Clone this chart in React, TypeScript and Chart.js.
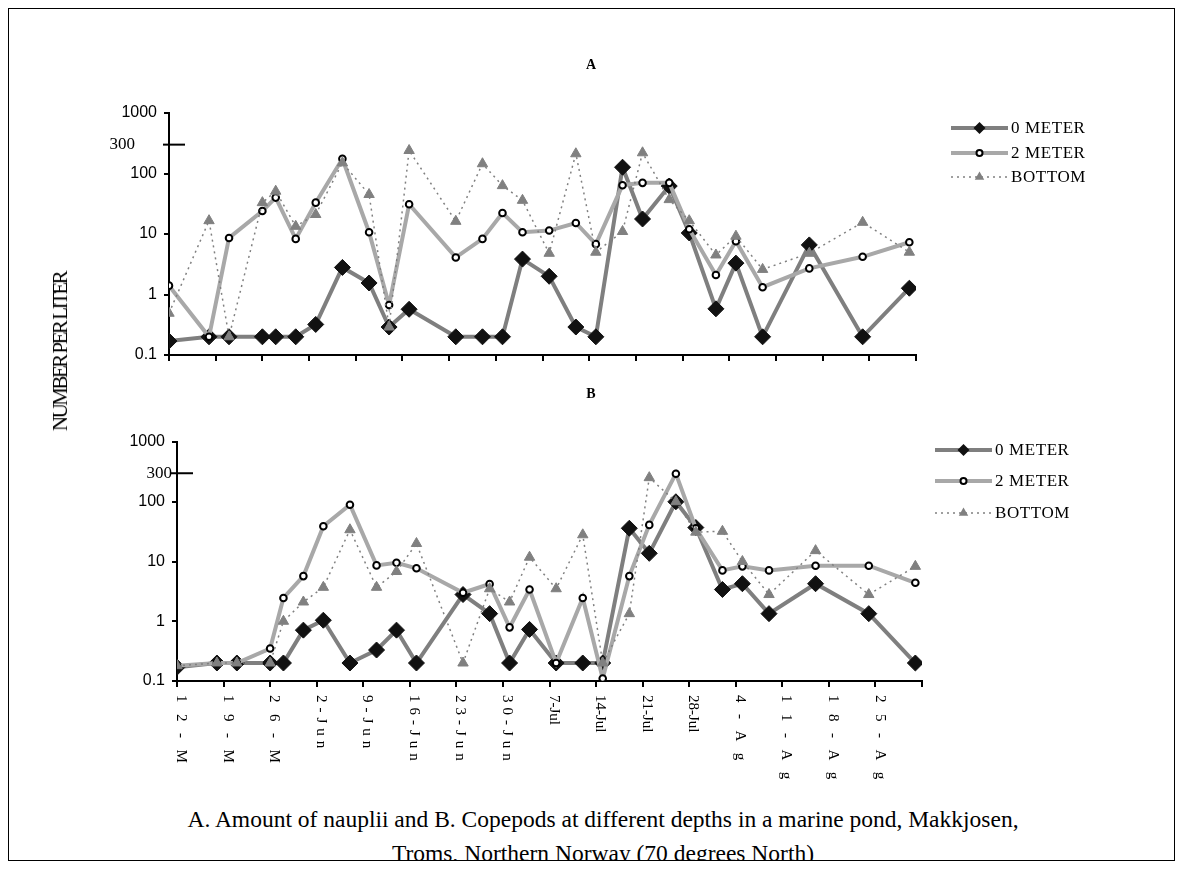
import React, { useEffect, useRef } from "react";
import { Chart, registerables } from "chart.js";

Chart.register(...registerables);

// ---- data ----
const sampleDays = [0, 6, 9, 14, 16, 19, 22, 26, 30, 33, 36, 43, 47, 50, 53, 57, 61, 64, 68, 71, 75, 78, 82, 85, 89, 96, 104, 111];
const weekTickDays = [0, 7, 14, 21, 28, 35, 42, 49, 56, 63, 70, 77, 84, 91, 98, 105, 112];
const weekLabels = ["12-M", "19-M", "26-M", "2-Jun", "9-Jun", "16-Jun", "23-Jun", "30-Jun", "7-Jul", "14-Jul", "21-Jul", "28-Jul", "4-Ag", "11-Ag", "18-Ag", "25-Ag", ""];
const yTickValues = [0.1, 1, 10, 100, 1000];
const yTickLabels = ["0.1", "1", "10", "100", "1000"];
const extraTickValue = 300;
const extraTickLabel = "300";
const seriesNames = ["0 METER", "2 METER", "BOTTOM"];

const naupliiZero = [0.17, 0.2, 0.2, 0.2, 0.2, 0.2, 0.32, 2.8, 1.55, 0.29, 0.57, 0.2, 0.2, 0.2, 3.85, 2.0, 0.29, 0.2, 127, 17.7, 62, 10.4, 0.58, 3.3, 0.2, 6.6, 0.2, 1.27];
const naupliiTwo = [1.4, 0.2, 8.6, 24, 40, 8.3, 33, 175, 10.7, 0.67, 31, 4.1, 8.3, 22.3, 10.7, 11.4, 15.2, 6.8, 64, 70, 70, 12, 2.1, 7.6, 1.32, 2.7, 4.2, 7.3];
const naupliiBottom = [0.49, 16.6, 0.2, 33, 51, 13.4, 21, 150, 45, 0.29, 240, 16.2, 145, 63, 36, 4.8, 212, 5, 11, 220, 37, 16.6, 4.5, 9.2, 2.6, 4.8, 15.6, 5];

const copepodZero = [0.17, 0.2, 0.2, 0.2, 0.2, 0.71, 1.04, 0.2, 0.33, 0.71, 0.2, 2.8, 1.34, 0.2, 0.73, 0.2, 0.2, 0.2, 36, 13.7, 100, 37, 3.4, 4.25, 1.34, 4.25, 1.34, 0.2];
const copepodTwo = [0.18, 0.2, 0.2, 0.35, 2.45, 5.7, 39, 89, 8.6, 9.5, 7.7, 3.0, 4.2, 0.79, 3.4, 0.2, 2.45, 0.11, 5.7, 41, 295, 36, 7.1, 8.3, 7.1, 8.5, 8.5, 4.4];
const copepodBottom = [0.18, 0.2, 0.2, 0.2, 1.0, 2.1, 3.7, 34, 3.7, 6.8, 20, 0.2, 3.5, 2.1, 11.8, 3.5, 28, 0.2, 1.34, 253, 100, 31, 32, 10, 2.8, 15.2, 2.8, 8.3];

// ---- styles ----
const seriesStyles = [
  { line: "#7f7f7f", width: 4, dash: [] as number[], marker: "diamond", pointStyle: "rectRot", radius: 8, fill: "#111111", stroke: "#111111", pbw: 1, order: 3 },
  { line: "#a8a8a8", width: 4, dash: [] as number[], marker: "circle", pointStyle: "circle", radius: 3.3, fill: "#ffffff", stroke: "#000000", pbw: 2, order: 2 },
  { line: "#808080", width: 1.5, dash: [2, 4], marker: "triangle", pointStyle: "triangle", radius: 6, fill: "#808080", stroke: "#808080", pbw: 1, order: 1 },
];

const SERIF = '"Liberation Serif", "Times New Roman", serif';
const SANS = '"Liberation Sans", Arial, sans-serif';

function drawMarker(ctx: CanvasRenderingContext2D, kind: string, x: number, y: number, r: number) {
  ctx.save();
  ctx.setLineDash([]);
  ctx.beginPath();
  if (kind === "diamond") {
    ctx.moveTo(x, y - r);
    ctx.lineTo(x + r, y);
    ctx.lineTo(x, y + r);
    ctx.lineTo(x - r, y);
    ctx.closePath();
    ctx.fillStyle = "#111";
    ctx.fill();
  } else if (kind === "circle") {
    ctx.arc(x, y, r, 0, Math.PI * 2);
    ctx.fillStyle = "#fff";
    ctx.fill();
    ctx.lineWidth = 2;
    ctx.strokeStyle = "#000";
    ctx.stroke();
  } else {
    const s = r * Math.sin((2 * Math.PI) / 3);
    const c = r * Math.cos((2 * Math.PI) / 3);
    ctx.moveTo(x, y - r);
    ctx.lineTo(x + s, y - c);
    ctx.lineTo(x - s, y - c);
    ctx.closePath();
    ctx.fillStyle = "#808080";
    ctx.fill();
  }
  ctx.restore();
}

type PanelCfg = {
  values: number[][];
  width: number;
  height: number;
  yAxisWidth: number;
  padTop: number;
  padRight: number;
  xAxisHeight: number;
  legendX1: number;
  legendX2: number;
  legendRows: number[];
  label300Right: number;
  showDateLabels: boolean;
};

function Panel({ cfg, style }: { cfg: PanelCfg; style: React.CSSProperties }) {
  const ref = useRef<HTMLCanvasElement | null>(null);
  useEffect(() => {
    if (!ref.current) return;
    const overlay = {
      id: "overlay",
      afterDraw(chart: any) {
        const ctx: CanvasRenderingContext2D = chart.ctx;
        const xs = chart.scales.x;
        const ys = chart.scales.y;
        const area = chart.chartArea;
        ctx.save();
        // extra 300 tick
        const y3 = ys.getPixelForValue(extraTickValue);
        ctx.strokeStyle = "#000";
        ctx.lineWidth = 2;
        ctx.beginPath();
        ctx.moveTo(area.left - 6, y3);
        ctx.lineTo(area.left + 16, y3);
        ctx.stroke();
        ctx.font = `17px ${SERIF}`;
        ctx.fillStyle = "#000";
        ctx.textAlign = "right";
        ctx.textBaseline = "middle";
        ctx.fillText(extraTickLabel, cfg.label300Right, y3);

        // legend
        seriesNames.forEach((name, i) => {
          const st = seriesStyles[i];
          const y = cfg.legendRows[i];
          ctx.save();
          ctx.strokeStyle = st.line;
          ctx.lineWidth = st.width;
          ctx.setLineDash(st.dash);
          ctx.beginPath();
          ctx.moveTo(cfg.legendX1, y);
          ctx.lineTo(cfg.legendX2, y);
          ctx.stroke();
          ctx.restore();
          const mx = (cfg.legendX1 + cfg.legendX2) / 2;
          drawMarker(ctx, st.marker, mx, y, st.marker === "diamond" ? 6 : st.marker === "circle" ? 3 : 5.5);
          ctx.save();
          ctx.font = `17px ${SERIF}`;
          (ctx as any).letterSpacing = "0.6px";
          ctx.fillStyle = "#000";
          ctx.textAlign = "left";
          ctx.textBaseline = "middle";
          ctx.fillText(name, cfg.legendX2 + 3, y + 1);
          ctx.restore();
        });

        // rotated date labels
        if (cfg.showDateLabels) {
          ctx.font = `15px ${SERIF}`;
          ctx.textAlign = "left";
          ctx.textBaseline = "middle";
          ctx.fillStyle = "#000";
          weekLabels.forEach((lab, i) => {
            if (!lab) return;
            const extra = lab.indexOf("Jul") >= 0 ? 0 : lab.indexOf("Jun") >= 0 ? 5 : 11.5;
            const x = xs.getPixelForValue(weekTickDays[i]) + 4;
            ctx.save();
            ctx.translate(x, area.bottom + 14);
            ctx.rotate(Math.PI / 2);
            let pos = 0;
            for (const ch of lab) {
              ctx.fillText(ch, pos, 0);
              pos += ctx.measureText(ch).width + extra;
            }
            ctx.restore();
          });
        }
        ctx.restore();
      },
    };

    const chart = new Chart(ref.current, {
      type: "line",
      data: {
        datasets: seriesNames.map((name, i) => {
          const st = seriesStyles[i];
          return {
            label: name,
            data: sampleDays.map((d, j) => ({ x: d, y: cfg.values[i][j] })),
            borderColor: st.line,
            borderWidth: st.width,
            borderDash: st.dash,
            pointStyle: st.pointStyle as any,
            pointRadius: st.radius,
            pointBackgroundColor: st.fill,
            pointBorderColor: st.stroke,
            pointBorderWidth: st.pbw,
            tension: 0,
            fill: false,
            order: st.order,
          };
        }),
      },
      options: {
        animation: false,
        responsive: false,
        events: [],
        layout: { padding: { left: 0, top: cfg.padTop, right: cfg.padRight, bottom: 0 } },
        plugins: { legend: { display: false }, tooltip: { enabled: false }, title: { display: false } },
        scales: {
          x: {
            type: "linear",
            min: 0,
            max: 112,
            afterBuildTicks: (scale: any) => {
              scale.ticks = weekTickDays.map((v) => ({ value: v }));
            },
            afterFit: (scale: any) => {
              scale.height = cfg.xAxisHeight;
            },
            ticks: { display: false },
            grid: { drawOnChartArea: false, drawTicks: true, tickLength: 6, color: "#000", lineWidth: 2 },
            border: { display: true, color: "#000", width: 2 },
          },
          y: {
            type: "logarithmic",
            min: 0.1,
            max: 1000,
            afterBuildTicks: (scale: any) => {
              scale.ticks = yTickValues.map((v) => ({ value: v }));
            },
            afterFit: (scale: any) => {
              scale.width = cfg.yAxisWidth;
            },
            ticks: {
              padding: 7,
              color: "#000",
              font: { family: SANS, size: 16 },
              callback: (_v: any, idx: number) => yTickLabels[idx],
            },
            grid: { drawOnChartArea: false, drawTicks: true, tickLength: 5, color: "#000", lineWidth: 2 },
            border: { display: true, color: "#000", width: 2 },
          },
        },
      },
      plugins: [overlay],
    });
    return () => chart.destroy();
  }, [cfg]);
  return <canvas ref={ref} width={cfg.width} height={cfg.height} style={{ position: "absolute", display: "block", ...style }} />;
}

const panelA: PanelCfg = {
  values: [naupliiZero, naupliiTwo, naupliiBottom],
  width: 1165,
  height: 380,
  yAxisWidth: 160,
  padTop: 104,
  padRight: 258,
  xAxisHeight: 34,
  legendX1: 942,
  legendX2: 999,
  legendRows: [119, 144, 168],
  label300Right: 126,
  showDateLabels: false,
};

const panelB: PanelCfg = {
  values: [copepodZero, copepodTwo, copepodBottom],
  width: 1165,
  height: 400,
  yAxisWidth: 168,
  padTop: 53,
  padRight: 252,
  xAxisHeight: 108,
  legendX1: 926,
  legendX2: 983,
  legendRows: [61, 92, 124],
  label300Right: 163,
  showDateLabels: true,
};

export default function App() {
  return (
    <div style={{ position: "relative", width: 1165, height: 851, border: "1px solid #000", fontFamily: SERIF, color: "#000", overflow: "hidden" }}>
      <Panel cfg={panelA} style={{ left: 0, top: 0 }} />
      <Panel cfg={panelB} style={{ left: 0, top: 380 }} />
      <div style={{ position: "absolute", left: 562, top: 48, width: 40, textAlign: "center", fontWeight: "bold", fontSize: 14, lineHeight: "16px" }}>A</div>
      <div style={{ position: "absolute", left: 562, top: 377, width: 40, textAlign: "center", fontWeight: "bold", fontSize: 14, lineHeight: "16px" }}>B</div>
      <div
        style={{
          position: "absolute",
          left: 51,
          top: 343,
          transform: "translate(-50%, -50%) rotate(-90deg)",
          whiteSpace: "nowrap",
          fontSize: 21,
          letterSpacing: "-2.5px",
          lineHeight: "22px",
        }}
      >
        NUMBER PER LITER
      </div>
      <div style={{ position: "absolute", left: 94, top: 793, width: 1000, textAlign: "center", fontSize: 23.5, lineHeight: "34px", whiteSpace: "nowrap" }}>
        <div>A. Amount of nauplii and B. Copepods at different depths in a marine pond, Makkjosen,</div>
        <div>Troms, Northern Norway (70 degrees North)</div>
      </div>
    </div>
  );
}
